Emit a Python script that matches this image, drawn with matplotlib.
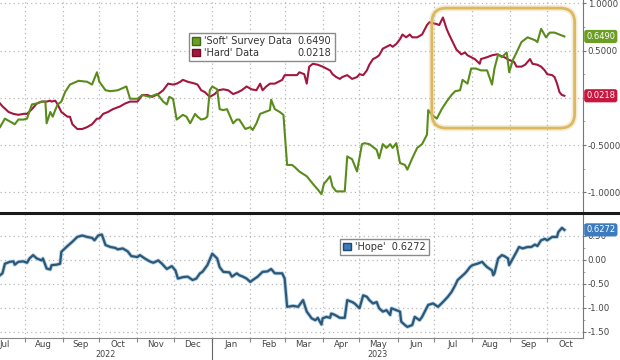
import matplotlib
matplotlib.use('Agg')
import matplotlib.pyplot as plt
import matplotlib.dates as mdates
import matplotlib.ticker as mticker
from matplotlib.patches import FancyBboxPatch, Patch
from matplotlib.lines import Line2D
import pandas as pd

font = {'size': 7, 'family': 'DejaVu Sans'}
matplotlib.rc('font', **font)

## Data, days counted from the first observation
start = pd.Timestamp('2022-07-12')
end = pd.Timestamp('2023-10-30')

soft_day = [0, 4, 8, 12, 15, 19, 22, 26, 30, 34, 37, 38, 41, 43, 45, 47, 50, 53, 57, 64,
            71, 75, 79, 81, 86, 90, 96, 103, 106, 112, 116, 122, 128, 130, 133, 136, 138, 141, 144, 147,
            149, 152, 155, 159, 161, 164, 167, 169, 171, 173, 177, 179, 182, 185, 187, 190, 193, 195, 200, 204,
            206, 209, 212, 216, 220, 221, 224, 228, 231, 234, 238, 240, 244, 250, 255, 259, 262, 264, 266, 269,
            271, 274, 281, 283, 287, 291, 295, 297, 301, 307, 309, 312, 315, 318, 320, 323, 326, 330, 332, 336,
            340, 344, 348, 349, 352, 356, 358, 360, 364, 368, 371, 375, 377, 381, 384, 388, 392, 397, 401, 403,
            406, 409, 413, 415, 418, 421, 425, 430, 436, 438, 441, 445, 448, 452, 456, 460]
soft_val = [-0.31, -0.22, -0.25, -0.28, -0.23, -0.23, -0.22, -0.07, -0.06, -0.04,
            -0.04, -0.27, -0.15, -0.20, -0.13, -0.07, -0.04, 0.06, 0.14, 0.18,
            0.17, 0.14, 0.27, 0.17, 0.08, 0.07, 0.08, 0.12, -0.01, -0.01,
            0.03, 0.01, 0.04, 0.01, -0.04, -0.07, 0.01, -0.01, -0.23, -0.20,
            -0.18, -0.20, -0.27, -0.17, -0.20, -0.23, -0.22, -0.20, 0.08, 0.12,
            0.09, -0.12, -0.13, -0.12, -0.18, -0.27, -0.23, -0.23, -0.33, -0.31,
            -0.34, -0.27, -0.17, -0.15, -0.13, -0.02, -0.12, -0.15, -0.18, -0.71,
            -0.71, -0.73, -0.78, -0.83, -0.91, -0.97, -1.02, -0.91, -0.88, -0.83,
            -0.94, -0.99, -0.99, -0.62, -0.65, -0.78, -0.49, -0.48, -0.49, -0.55,
            -0.64, -0.49, -0.53, -0.49, -0.53, -0.48, -0.69, -0.71, -0.76, -0.64,
            -0.53, -0.49, -0.39, -0.13, -0.18, -0.22, -0.17, -0.12, -0.04, 0.03,
            0.07, 0.08, 0.19, 0.15, 0.31, 0.31, 0.29, 0.29, 0.14, 0.31,
            0.46, 0.43, 0.48, 0.27, 0.40, 0.48, 0.59, 0.64, 0.61, 0.59,
            0.73, 0.64, 0.69, 0.69, 0.67, 0.649]

hard_day = [0, 2, 7, 11, 15, 19, 22, 26, 30, 34, 38, 41, 42, 45, 47, 50, 55, 57, 59, 63,
            67, 71, 75, 79, 81, 84, 88, 92, 98, 102, 106, 112, 116, 120, 124, 129, 133, 137, 141, 144,
            147, 149, 153, 159, 161, 164, 167, 171, 175, 178, 182, 186, 190, 194, 197, 201, 205, 209, 212, 214,
            217, 220, 224, 230, 232, 238, 242, 244, 248, 250, 252, 255, 259, 263, 266, 269, 271, 274, 277, 279,
            283, 285, 287, 291, 293, 296, 299, 301, 304, 307, 309, 312, 315, 318, 320, 323, 326, 328, 331, 334,
            336, 340, 344, 348, 350, 356, 358, 361, 364, 366, 369, 372, 376, 379, 381, 384, 387, 391, 392, 397,
            401, 405, 407, 411, 415, 419, 421, 425, 428, 432, 434, 438, 441, 444, 446, 450, 452, 454, 456, 458, 460]
hard_val = [-0.06, -0.09, -0.15, -0.17, -0.18, -0.17, -0.17, -0.12, -0.06, -0.04,
            -0.04, -0.03, -0.04, -0.03, -0.07, -0.15, -0.20, -0.20, -0.28, -0.33,
            -0.33, -0.31, -0.28, -0.22, -0.22, -0.17, -0.15, -0.12, -0.09, -0.06,
            -0.04, -0.04, 0.03, 0.03, 0.01, 0.04, 0.08, 0.15, 0.14, 0.15,
            0.17, 0.19, 0.17, 0.15, 0.14, 0.08, 0.06, 0.01, 0.04, 0.08,
            0.09, 0.08, 0.04, 0.06, 0.08, 0.12, 0.09, 0.08, 0.15, 0.08,
            0.12, 0.15, 0.15, 0.19, 0.24, 0.24, 0.24, 0.27, 0.25, 0.15,
            0.33, 0.36, 0.35, 0.33, 0.31, 0.29, 0.25, 0.22, 0.20, 0.22,
            0.24, 0.22, 0.20, 0.22, 0.25, 0.24, 0.29, 0.35, 0.41, 0.43,
            0.45, 0.52, 0.54, 0.56, 0.54, 0.57, 0.62, 0.67, 0.64, 0.67,
            0.64, 0.64, 0.67, 0.77, 0.80, 0.78, 0.77, 0.85, 0.73, 0.67,
            0.59, 0.51, 0.46, 0.48, 0.45, 0.43, 0.41, 0.36, 0.41, 0.43,
            0.45, 0.46, 0.45, 0.43, 0.40, 0.38, 0.33, 0.33, 0.35, 0.41,
            0.36, 0.35, 0.33, 0.29, 0.25, 0.24, 0.22, 0.15, 0.06, 0.03, 0.0218]

hope_day = [0, 2, 4, 8, 11, 12, 15, 19, 22, 24, 27, 30, 34, 35, 38, 41, 42, 46, 49, 50,
            55, 59, 63, 67, 71, 75, 77, 80, 83, 86, 90, 94, 96, 100, 104, 107, 112, 114, 118, 122,
            125, 129, 132, 136, 140, 143, 145, 149, 153, 157, 160, 163, 165, 169, 173, 177, 179, 182, 187, 189,
            193, 195, 198, 201, 204, 206, 210, 214, 218, 221, 224, 230, 232, 234, 239, 243, 247, 250, 254, 257,
            259, 262, 263, 266, 269, 270, 273, 277, 281, 283, 287, 289, 293, 296, 299, 301, 304, 307, 309, 312,
            315, 318, 319, 323, 326, 327, 330, 332, 336, 338, 342, 344, 349, 353, 357, 361, 365, 368, 371, 373,
            376, 379, 381, 383, 385, 389, 393, 395, 397, 401, 402, 403, 406, 409, 411, 414, 415, 418, 421, 423,
            426, 430, 433, 436, 438, 441, 444, 446, 450, 454, 455, 458, 460]
hope_val = [-0.32, -0.28, -0.08, -0.04, -0.03, -0.10, -0.04, -0.03, -0.06, 0.03,
            0.10, 0.03, -0.01, 0.03, -0.18, -0.20, -0.11, -0.10, -0.08, 0.17,
            0.29, 0.38, 0.48, 0.51, 0.48, 0.46, 0.41, 0.51, 0.53, 0.31,
            0.27, 0.25, 0.22, 0.24, 0.18, 0.08, 0.06, 0.10, 0.03, -0.03,
            -0.06, -0.01, -0.08, -0.19, -0.13, -0.22, -0.39, -0.36, -0.35, -0.42,
            -0.39, -0.28, -0.25, -0.11, 0.13, 0.03, -0.15, -0.25, -0.26, -0.35,
            -0.28, -0.32, -0.35, -0.39, -0.46, -0.42, -0.35, -0.25, -0.24, -0.19,
            -0.28, -0.28, -0.39, -0.98, -0.96, -0.98, -0.84, -1.08, -1.22, -1.26,
            -1.21, -1.35, -1.22, -1.19, -1.21, -1.12, -1.15, -1.21, -1.21, -0.84,
            -0.88, -0.91, -1.01, -0.74, -0.77, -0.84, -0.91, -0.88, -1.01, -1.08,
            -1.05, -1.15, -1.01, -1.05, -1.08, -1.29, -1.36, -1.40, -1.36, -1.19,
            -1.26, -1.19, -0.94, -0.91, -0.98, -0.88, -0.77, -0.67, -0.53, -0.42,
            -0.35, -0.28, -0.22, -0.15, -0.11, -0.08, -0.04, -0.10, -0.15, -0.22,
            -0.32, -0.28, 0.03, 0.10, 0.08, 0.03, -0.11, 0.03, 0.17, 0.27,
            0.24, 0.27, 0.27, 0.32, 0.29, 0.41, 0.44, 0.41, 0.48, 0.48,
            0.58, 0.67, 0.6272]

soft_last, hard_last, hope_last = 0.6490, 0.0218, 0.6272

top_ticks = [1.0, 0.5, 0.0, -0.5, -1.0]
top_labels = ['1.0000', '0.5000', '', '-0.5000', '-1.0000']
bot_ticks = [0.5, 0.0, -0.5, -1.0, -1.5]
bot_labels = ['0.50', '0.00', '-0.50', '-1.00', '-1.50']

green, green_box = '#5a8c1c', '#6b9e22'
red, red_box = '#a3173f', '#c8163e'
blue, blue_box = '#2c5878', '#3c7bbd'
grid_c = '#b8b8b8'

soft_dates = start + pd.to_timedelta(soft_day, unit='D')
hard_dates = start + pd.to_timedelta(hard_day, unit='D')
hope_dates = start + pd.to_timedelta(hope_day, unit='D')

fig = plt.figure(figsize=(6.2, 3.6), dpi=100)
ax1 = fig.add_axes([0, 0.408, 0.940, 0.592])
ax2 = fig.add_axes([0, 0.060, 0.940, 0.343])

for ax in (ax1, ax2):
    ax.set_xlim(start, end)
    ax.yaxis.tick_right()
    ax.xaxis.set_major_locator(mdates.MonthLocator())
    ax.xaxis.set_minor_locator(mdates.MonthLocator(bymonthday=16))
    ax.grid(True, which='major', linestyle=(0, (1, 2.5)), color=grid_c, lw=0.9)
    for s in ('left', 'top'):
        ax.spines[s].set_visible(False)
    ax.spines['right'].set_color('#777777')
    ax.tick_params(axis='y', which='major', length=2.5, color='#777777', labelcolor='#444444',
                   pad=1, labelsize=6.2)
    ax.tick_params(axis='y', which='minor', length=1.5, color='#999999')
    ax.yaxis.set_minor_locator(mticker.MultipleLocator(0.25))

## Top panel
ax1.plot(hard_dates, hard_val, color=red, lw=1.5, zorder=3)
ax1.plot(soft_dates, soft_val, color=green, lw=1.5, zorder=3)
ax1.set_ylim(-1.22, 1.035)
ax1.set_yticks(top_ticks)
ax1.set_yticklabels(top_labels)
ax1.tick_params(axis='x', which='both', length=0, labelbottom=False)
ax1.spines['bottom'].set_visible(False)

handles = [Patch(fc=green_box, ec='#3d6a10'), Patch(fc=red, ec='#6d0c24'),
           Patch(alpha=0), Patch(alpha=0)]
labels = ["'Soft' Survey Data", "'Hard' Data", '%.4f' % soft_last, '%.4f' % hard_last]
leg = ax1.legend(handles, labels, ncol=2, loc='upper left', bbox_to_anchor=(0.316, 0.869),
                 fontsize=7, handlelength=0.8, handleheight=0.8, handletextpad=0.4,
                 columnspacing=-0.6, labelspacing=0.15, borderpad=0.35,
                 frameon=True, fancybox=False, edgecolor='#8a8a8a', framealpha=1)
leg.get_frame().set_linewidth(1.0)
for t in leg.get_texts():
    t.set_color('#333333')

# highlight box
aspect = (0.940 * 620) / (0.592 * 360)
for lw, a in ((4.5, 0.25), (2.0, 1.0)):
    box = FancyBboxPatch((0.741, 0.399), 0.245, 0.563,
                         boxstyle='round,pad=0,rounding_size=0.025', mutation_aspect=aspect,
                         transform=ax1.transAxes, fill=False, ec='#dcb860', lw=lw, alpha=a,
                         zorder=4)
    ax1.add_patch(box)

## Bottom panel
ax2.plot(hope_dates, hope_val, color='#b3d0e6', lw=2.8, zorder=2)
ax2.plot(hope_dates, hope_val, color=blue, lw=1.6, zorder=3)
ax2.set_ylim(-1.64, 0.94)
ax2.set_yticks(bot_ticks)
ax2.set_yticklabels(bot_labels)
ax2.xaxis.set_major_formatter(mticker.NullFormatter())
ax2.xaxis.set_minor_formatter(mdates.DateFormatter('%b'))
ax2.tick_params(axis='x', which='major', length=3, color='#888888')
ax2.tick_params(axis='x', which='minor', length=0, labelsize=6.2, labelcolor='#444444', pad=1)
ax2.spines['bottom'].set_color('#888888')

leg2 = ax2.legend([Patch(fc=blue_box, ec='#1f4a6e')], ["'Hope'  %.4f" % hope_last],
                  loc='upper left', bbox_to_anchor=(0.575, 0.848), fontsize=7,
                  handlelength=0.8, handleheight=0.8, handletextpad=0.4, borderpad=0.35,
                  frameon=True, fancybox=False, edgecolor='#8a8a8a', framealpha=1)
leg2.get_frame().set_linewidth(1.0)
leg2.get_texts()[0].set_color('#333333')

# year labels and separator
jan1 = mdates.date2num(pd.Timestamp('2023-01-01'))
xt = ax2.get_xaxis_transform()
ax2.plot([jan1, jan1], [0, -0.18], transform=xt, clip_on=False, color='#666666', lw=0.8)
ax2.text(pd.Timestamp('2022-10-06'), -0.095, '2022', transform=xt, ha='center', va='top',
         fontsize=5.8, color='#444444')
ax2.text(pd.Timestamp('2023-05-16'), -0.095, '2023', transform=xt, ha='center', va='top',
         fontsize=5.8, color='#444444')

## Last value tags on the right axis
for ax, v, c in ((ax1, soft_last, green_box), (ax1, hard_last, red_box), (ax2, hope_last, blue_box)):
    ax.annotate('%.4f' % v, xy=(1, v), xycoords=('axes fraction', 'data'),
                xytext=(2.5, 0), textcoords='offset points', ha='left', va='center',
                color='white', fontsize=6.0, annotation_clip=False, zorder=6,
                bbox=dict(boxstyle='round,pad=0.25,rounding_size=0.3', fc=c, ec='none'))

# dividing line between the panels
fig.add_artist(Line2D([0, 1], [1 - 213 / 360.] * 2, transform=fig.transFigure,
                      color='#1a1a1a', lw=2.2))

fig.savefig('out.png', dpi=100)
